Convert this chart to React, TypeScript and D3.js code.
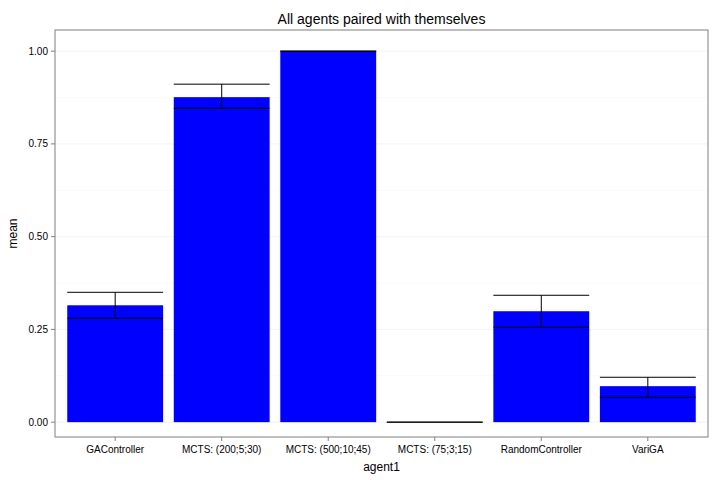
import * as d3 from 'd3';

const agents = ['GAController', 'MCTS: (200;5;30)', 'MCTS: (500;10;45)', 'MCTS: (75;3;15)', 'RandomController', 'VariGA'];
const means = [0.315, 0.876, 1.0, 0.0, 0.299, 0.097];
const lowers = [0.28, 0.846, 1.0, 0.0, 0.256, 0.067];
const uppers = [0.35, 0.911, 1.0, 0.0, 0.342, 0.121];
const yTicks = [0, 0.25, 0.5, 0.75, 1.0];

const W = 720, H = 480;
const m = { top: 30, right: 12, bottom: 43, left: 55 };

export default function App() {
  const x = d3.scaleBand<string>().domain(agents).range([m.left, W - m.right]).paddingInner(0.1).paddingOuter(0.115);
  const y = d3.scaleLinear().domain([-0.04, 1.057]).range([H - m.bottom, m.top]);
  const minor = yTicks.slice(0, -1).map((t) => t + 0.125);
  const font = 'Liberation Sans, Arial, sans-serif';
  return (
    <svg width={W} height={H} style={{ position: 'absolute', left: 0, top: 0, background: '#fff' }} fontFamily={font}>
      {minor.map((t) => (
        <line key={'n' + t} x1={m.left} x2={W - m.right} y1={y(t)} y2={y(t)} stroke="#fafafa" />
      ))}
      {yTicks.map((t) => (
        <line key={'g' + t} x1={m.left} x2={W - m.right} y1={y(t)} y2={y(t)} stroke="#f3f3f3" />
      ))}
      {agents.map((a, i) => (
        <rect key={a} x={x(a)} width={x.bandwidth()} y={y(means[i])} height={Math.max(0, y(0) - y(means[i]))} fill="#0000ff" />
      ))}
      {agents.map((a, i) => {
        const cx = x(a)! + x.bandwidth() / 2;
        const x0 = x(a)!, x1 = x(a)! + x.bandwidth();
        return (
          <g key={'e' + a} stroke="#000" strokeWidth={1}>
            <line x1={cx} x2={cx} y1={y(lowers[i])} y2={y(uppers[i])} />
            <line x1={x0} x2={x1} y1={y(lowers[i])} y2={y(lowers[i])} />
            <line x1={x0} x2={x1} y1={y(uppers[i])} y2={y(uppers[i])} />
          </g>
        );
      })}
      <rect x={m.left} y={m.top} width={W - m.left - m.right} height={H - m.top - m.bottom} fill="none" stroke="#7f7f7f" />
      {yTicks.map((t) => (
        <g key={'t' + t}>
          <line x1={m.left - 4} x2={m.left} y1={y(t)} y2={y(t)} stroke="#7f7f7f" />
          <text x={m.left - 7} y={y(t)} dy="0.35em" textAnchor="end" fontSize={10} fill="#000">{t.toFixed(2)}</text>
        </g>
      ))}
      {agents.map((a) => (
        <g key={'x' + a}>
          <line x1={x(a)! + x.bandwidth() / 2} x2={x(a)! + x.bandwidth() / 2} y1={H - m.bottom} y2={H - m.bottom + 4} stroke="#7f7f7f" />
          <text x={x(a)! + x.bandwidth() / 2} y={H - m.bottom + 16} textAnchor="middle" fontSize={10} fill="#000">{a}</text>
        </g>
      ))}
      <text x={(m.left + W - m.right) / 2} y={H - 9} textAnchor="middle" fontSize={12}>agent1</text>
      <text transform={`translate(17,${(m.top + H - m.bottom) / 2}) rotate(-90)`} textAnchor="middle" fontSize={12}>mean</text>
      <text x={(m.left + W - m.right) / 2} y={24} textAnchor="middle" fontSize={14}>All agents paired with themselves</text>
    </svg>
  );
}
